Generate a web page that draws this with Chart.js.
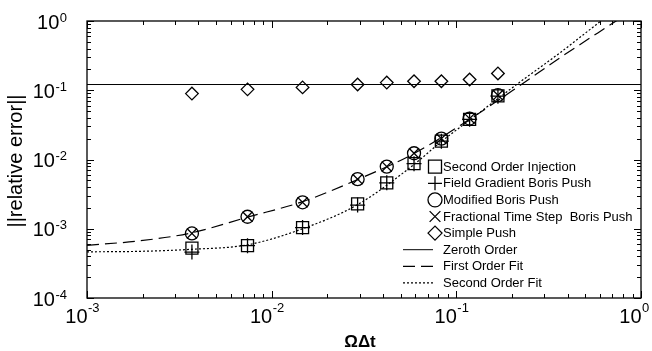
<!DOCTYPE html>
<html>
<head>
<meta charset="utf-8">
<script src="https://cdn.jsdelivr.net/npm/chart.js@4.4.0/dist/chart.umd.min.js"></script>
<style>
  html, body { margin: 0; padding: 0; background: #fff; }
  #wrap { width: 652px; height: 351px; }
</style>
</head>
<body>
<div id="wrap"><canvas id="chart" width="652" height="351"></canvas></div>
<script>
// values
const omegaDt = [0.0037, 0.0074, 0.0147, 0.0292, 0.042, 0.059, 0.083, 0.118, 0.168];
const secondOrderInjection = [5.25e-4, 5.7e-4, 1.04e-3, 2.28e-3, 4.6e-3, 8.7e-3, 0.0184, 0.038, 0.083];
const fieldGradientBoris = [4.6e-4, 5.7e-4, 1.04e-3, 2.2e-3, 4.6e-3, 8.7e-3, 0.0184, 0.038, 0.082];
const modifiedBoris = [8.55e-4, 1.49e-3, 2.41e-3, 5.2e-3, 7.9e-3, 0.0123, 0.020, 0.039, 0.085];
const fractionalBoris = [8.55e-4, 1.49e-3, 2.41e-3, 5.2e-3, 7.9e-3, 0.0123, 0.020, 0.039, 0.085];
const simplePush = [0.0895, 0.103, 0.11, 0.121, 0.129, 0.135, 0.135, 0.143, 0.175];

const zerothX = [0.001, 1];
const zerothOrder = [0.121, 0.121];
const firstFitX = [0.001, 0.00194, 0.0037, 0.0074, 0.0147, 0.0292, 0.059, 0.118, 0.225, 0.368, 0.733, 1.0];
const firstOrderFit = [5.77e-4, 6.7e-4, 8.75e-4, 1.47e-3, 2.46e-3, 5.13e-3, 0.0122, 0.038, 0.121, 0.30, 1.0, 1.72];
const secondFitX = [0.001, 0.00194, 0.0037, 0.0074, 0.0147, 0.0292, 0.059, 0.083, 0.118, 0.212, 0.368, 0.607, 1.0];
const secondOrderFit = [4.64e-4, 4.72e-4, 5.05e-4, 5.86e-4, 1.0e-3, 2.23e-3, 8.47e-3, 0.0182, 0.037, 0.121, 0.355, 1.0, 2.7];

const xDecades = [-3, -2, -1, 0];
const yDecades = [-4, -3, -2, -1, 0];

const FONT = '"Liberation Sans", Arial, Helvetica, sans-serif';

function pts(xs, ys) {
    return xs.map((x, i) => ({ x: x, y: ys[i] }));
}

function markers(label, ys, style, r, legendR) {
    return {
        label: label,
        data: pts(omegaDt, ys),
        showLine: false,
        pointStyle: style,
        pointRadius: r,
        pointHoverRadius: r,
        pointBorderWidth: 1.3,
        pointBorderColor: '#000',
        pointBackgroundColor: 'rgba(0,0,0,0)',
        borderColor: '#000',
        legendR: legendR
    };
}

function fitLine(label, xs, ys, dash, width) {
    return {
        label: label,
        data: pts(xs, ys),
        showLine: true,
        pointRadius: 0,
        borderColor: '#000',
        borderWidth: width,
        borderDash: dash,
        cubicInterpolationMode: 'monotone'
    };
}

function drawPow(ctx, exp, left, base10, baseSup) {
    ctx.font = '20px ' + FONT;
    ctx.fillText('10', left, base10);
    const w = ctx.measureText('10').width;
    ctx.font = '13px ' + FONT;
    ctx.fillText(exp, left + w + 0.5, baseSup);
}

function powWidth(ctx, exp) {
    ctx.font = '20px ' + FONT;
    const w = ctx.measureText('10').width;
    ctx.font = '13px ' + FONT;
    return w + 0.5 + ctx.measureText(exp).width;
}

// frame, inward ticks, labels, titles and the legend box
const framePlugin = {
    id: 'frame',
    afterDraw(chart) {
        const ctx = chart.ctx;
        const a = chart.chartArea;
        const xs = chart.scales.x, ys = chart.scales.y;
        ctx.save();
        ctx.strokeStyle = '#000';
        ctx.fillStyle = '#000';
        ctx.lineWidth = 1.3;
        ctx.strokeRect(a.left, a.top, a.right - a.left, a.bottom - a.top);

        ctx.lineWidth = 1;
        const seg = (x1, y1, x2, y2) => {
            ctx.beginPath(); ctx.moveTo(x1, y1); ctx.lineTo(x2, y2); ctx.stroke();
        };
        xDecades.forEach(d => {
            for (let m = 1; m <= 9; m++) {
                const v = m * Math.pow(10, d);
                if (v > 1.0001) break;
                const px = Math.round(xs.getPixelForValue(v)) + 0.5;
                const len = m === 1 ? 7 : 4;
                seg(px, a.bottom, px, a.bottom - len);
                seg(px, a.top, px, a.top + len);
            }
        });
        yDecades.forEach(d => {
            for (let m = 1; m <= 9; m++) {
                const v = m * Math.pow(10, d);
                if (v > 1.0001) break;
                const py = Math.round(ys.getPixelForValue(v)) + 0.5;
                const len = m === 1 ? 7 : 4;
                seg(a.left, py, a.left + len, py);
                seg(a.right, py, a.right - len, py);
            }
        });

        // tick labels
        ctx.textAlign = 'left';
        ctx.textBaseline = 'alphabetic';
        yDecades.forEach(d => {
            const py = ys.getPixelForValue(Math.pow(10, d));
            const exp = d === 0 ? '0' : '-' + (-d);
            const w = powWidth(ctx, exp);
            drawPow(ctx, exp, 67 - w, py + 7.5, py + 0.5);
        });
        xDecades.forEach(d => {
            const px = xs.getPixelForValue(Math.pow(10, d));
            const exp = d === 0 ? '0' : '-' + (-d);
            ctx.font = '20px ' + FONT;
            const w10 = ctx.measureText('10').width;
            drawPow(ctx, exp, px - w10 + 0.5, 322.5, 312);
        });

        // axis titles
        ctx.textAlign = 'center';
        ctx.font = 'bold 17px ' + FONT;
        ctx.fillText('\u03A9\u0394t', 360, 347);
        ctx.save();
        ctx.translate(16, 161);
        ctx.rotate(-Math.PI / 2);
        ctx.textBaseline = 'middle';
        ctx.font = '20px ' + FONT;
        ctx.fillText('||relative error||', 0, 0);
        ctx.restore();

        // legend
        const rowY0 = 166.7, rowStep = 16.6;
        ctx.textAlign = 'left';
        ctx.textBaseline = 'middle';
        chart.data.datasets.forEach((ds, i) => {
            const cy = rowY0 + i * rowStep;
            ctx.strokeStyle = '#000';
            ctx.fillStyle = 'rgba(0,0,0,0)';
            if (ds.showLine) {
                ctx.lineWidth = ds.borderWidth;
                ctx.setLineDash(ds.borderDash || []);
                seg(403, cy, 433, cy);
                ctx.setLineDash([]);
            } else {
                ctx.lineWidth = 1.3;
                Chart.helpers.drawPoint(ctx, {
                    pointStyle: ds.pointStyle, radius: ds.legendR, rotation: 0, borderWidth: 1.3
                }, 435, cy);
            }
            ctx.fillStyle = '#000';
            ctx.font = '13px ' + FONT;
            ctx.fillText(ds.label, 443, cy + 0.5);
        });
        ctx.restore();
    }
};

new Chart(document.getElementById('chart'), {
    type: 'scatter',
    data: {
        datasets: [
            markers('Second Order Injection', secondOrderInjection, 'rect', 8.5, 9.2),
            markers('Field Gradient Boris Push', fieldGradientBoris, 'cross', 7.5, 7),
            markers('Modified Boris Push', modifiedBoris, 'circle', 6.5, 7),
            markers('Fractional Time Step  Boris Push', fractionalBoris, 'crossRot', 7, 7.6),
            markers('Simple Push', simplePush, 'rectRot', 6.3, 7),
            fitLine('Zeroth Order', zerothX, zerothOrder, [], 1),
            fitLine('First Order Fit', firstFitX, firstOrderFit, [12, 6], 1.2),
            fitLine('Second Order Fit', secondFitX, secondOrderFit, [2, 2], 1.2)
        ]
    },
    options: {
        responsive: false,
        animation: false,
        events: [],
        layout: { padding: { left: 87, top: 21, right: 11, bottom: 53 } },
        plugins: { legend: { display: false }, tooltip: { enabled: false } },
        scales: {
            x: { type: 'logarithmic', min: 1e-3, max: 1, display: false },
            y: { type: 'logarithmic', min: 1e-4, max: 1, display: false }
        }
    },
    plugins: [framePlugin]
});
</script>
</body>
</html>
